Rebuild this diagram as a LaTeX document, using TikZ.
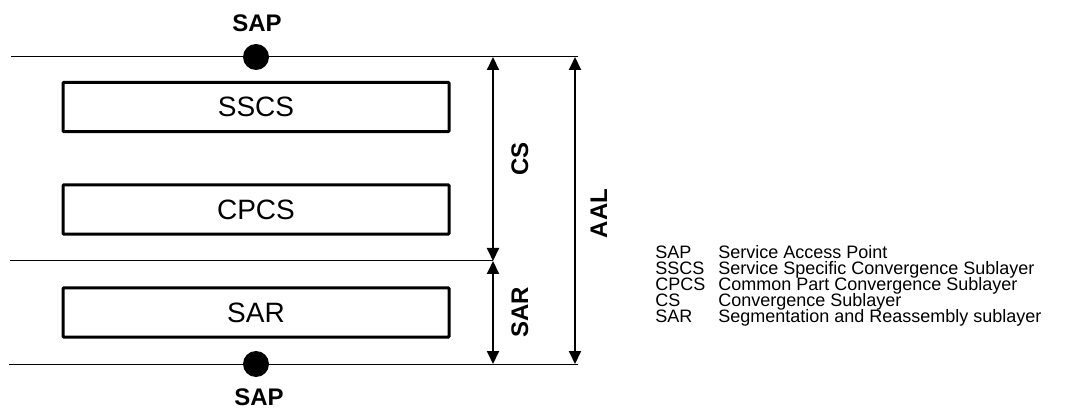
\documentclass[tikz,border=0pt]{standalone}
\usepackage{fontspec}
\setmainfont{Liberation Sans}
\usetikzlibrary{arrows.meta}
\tikzset{layerbox/.style={draw=black,line width=2.25pt,rounded corners=0.75pt,minimum width=289.5pt,minimum height=37pt,font=\fontsize{21}{25}\selectfont}}

\begin{document}
\begin{tikzpicture}[x=0.75pt,y=-0.75pt]
\tikzset{dim/.style={{Triangle[length=9.75pt,width=9pt]}-{Triangle[length=9.75pt,width=9pt]},line width=1.5pt}}
\tikzset{sapdot/.style={circle,fill=black,inner sep=0pt,minimum size=19.5pt}}
\tikzset{boldlabel/.style={font=\bfseries\fontsize{18}{21}\selectfont,inner sep=0pt}}
\tikzset{legendtext/.style={anchor=west,inner sep=0pt,text height=9pt,text depth=2pt,font=\fontsize{13.5}{16}\selectfont}}
\useasboundingbox (0,0) rectangle (1066,409);
% layer boundaries
\coordinate (topL) at (11,57);
\coordinate (topR) at (578,57);
\coordinate (midL) at (10,261);
\coordinate (midR) at (493,261);
\coordinate (botL) at (9,364);
\coordinate (botR) at (578,364);
\coordinate (csTop) at (493,57);
\coordinate (aalTop) at (575,57);
\coordinate (aalBot) at (575,364);
\coordinate (sarBot) at (493,364);
\draw[line width=0.75pt] (topL) -- (topR);
\draw[line width=0.75pt] (midL) -- (midR);
\draw[line width=0.75pt] (botL) -- (botR);
% sublayers
\node[layerbox] (sscs) at (256,107) {SSCS};
\node[layerbox] (cpcs) at (256,209.5) {CPCS};
\node[layerbox] (sar) at (256,312.5) {SAR};
% access points
\node[sapdot] (sapTop) at (256,57) {};
\node[sapdot] (sapBot) at (256,364) {};
\node[boldlabel] (sapTopLabel) at (257,23) {SAP};
\node[boldlabel] (sapBotLabel) at (259,397) {SAP};
% extents
\draw[dim] (midR) -- (csTop) node[midway,boldlabel,rotate=90,below=13pt] (csLabel) {CS};
\draw[dim] (sarBot) -- (midR) node[midway,boldlabel,rotate=90,below=13pt] (sarLabel) {SAR};
\draw[dim] (aalBot) -- (aalTop) node[pos=0.49,boldlabel,rotate=90,below=11pt] (aalLabel) {AAL};
% legend
\foreach \abbr/\desc [count=\i] in {SAP/Service Access Point,SSCS/Service Specific Convergence Sublayer,CPCS/Common Part Convergence Sublayer,CS/Convergence Sublayer,SAR/Segmentation and Reassembly sublayer}{
  \node[legendtext] (abbr\i) at (655,{254+(\i-1)*16}) {\abbr};
  \node[legendtext] (desc\i) at (718,{254+(\i-1)*16}) {\desc};
}
\end{tikzpicture}
\end{document}
